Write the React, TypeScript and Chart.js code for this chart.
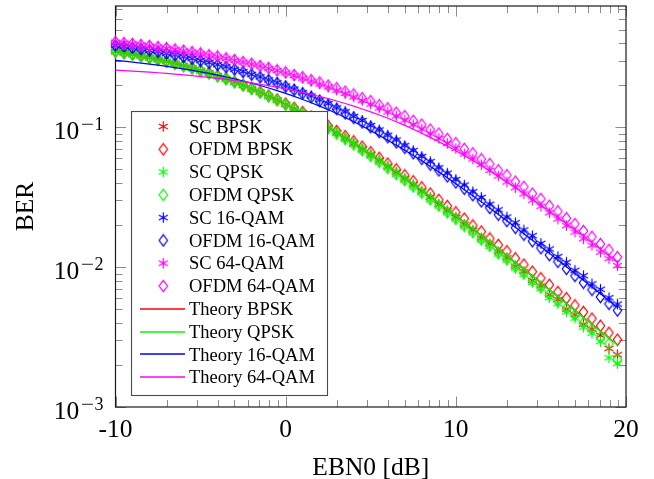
import React, { useEffect, useRef } from "react";
import { Chart, registerables } from "chart.js";

Chart.register(...registerables);

// ---------- data ----------
const ebn0 = [
  -10, -9.5, -9, -8.5, -8, -7.5, -7, -6.5, -6, -5.5, -5, -4.5, -4, -3.5, -3, -2.5, -2, -1.5, -1, -0.5,
  0, 0.5, 1, 1.5, 2, 2.5, 3, 3.5, 4, 4.5, 5, 5.5, 6, 6.5, 7, 7.5, 8, 8.5, 9, 9.5,
  10, 10.5, 11, 11.5, 12, 12.5, 13, 13.5, 14, 14.5, 15, 15.5, 16, 16.5, 17, 17.5, 18, 18.5, 19, 19.5,
];

const scBpsk = [
  0.3489, 0.3415, 0.3325, 0.3244, 0.3148, 0.306, 0.2957, 0.2865, 0.2756, 0.2658, 0.2545, 0.2444, 0.2328, 0.2225, 0.2107, 0.2003, 0.1886, 0.1784, 0.1669, 0.1571,
  0.1461, 0.1358, 0.1264, 0.1168, 0.1081, 0.0994, 0.0915, 0.0838, 0.0768, 0.0699, 0.0637, 0.058, 0.0525, 0.0476, 0.0429, 0.0389, 0.0349, 0.0315, 0.0281, 0.0253,
  0.02269, 0.02016, 0.01838, 0.01614, 0.01461, 0.01288, 0.01166, 0.01016, 0.009278, 0.008036, 0.007337, 0.006348, 0.005856, 0.00501, 0.004571, 0.003904, 0.003603, 0.00325, 0.002619, 0.002365,
];
const ofdmBpsk = [
  0.3497, 0.3416, 0.3335, 0.3246, 0.3157, 0.3062, 0.2967, 0.2868, 0.2767, 0.2662, 0.2557, 0.245, 0.2342, 0.2232, 0.2122, 0.2012, 0.1902, 0.1794, 0.1687, 0.1582,
  0.1479, 0.138, 0.1286, 0.1194, 0.1107, 0.1022, 0.09421, 0.08658, 0.07945, 0.07268, 0.06643, 0.06054, 0.05512, 0.05005, 0.04543, 0.04114, 0.03723, 0.03362, 0.03036, 0.02737,
  0.02467, 0.02225, 0.01988, 0.01799, 0.01604, 0.01443, 0.01299, 0.01157, 0.01044, 0.009289, 0.008341, 0.007487, 0.006657, 0.006, 0.005333, 0.004782, 0.004288, 0.00381, 0.003399, 0.003032,
];
const scQpsk = [
  0.348, 0.3402, 0.3318, 0.3232, 0.314, 0.305, 0.295, 0.2853, 0.2751, 0.2646, 0.2541, 0.2432, 0.2324, 0.2213, 0.2103, 0.1992, 0.1882, 0.1773, 0.1665, 0.156,
  0.1457, 0.135, 0.1257, 0.1156, 0.1072, 0.098, 0.09044, 0.08219, 0.07544, 0.06832, 0.06238, 0.05634, 0.0513, 0.04611, 0.04182, 0.03752, 0.03397, 0.03036, 0.0274, 0.02447,
  0.02211, 0.01964, 0.01772, 0.01563, 0.01408, 0.01241, 0.01123, 0.009837, 0.008843, 0.007777, 0.007028, 0.006072, 0.005486, 0.004789, 0.004325, 0.003729, 0.003368, 0.002936, 0.00225, 0.00205,
];
const ofdmQpsk = [
  0.3486, 0.3408, 0.3322, 0.3236, 0.3146, 0.3053, 0.2956, 0.2858, 0.2755, 0.2651, 0.2545, 0.2437, 0.2328, 0.2218, 0.2107, 0.1997, 0.1886, 0.1778, 0.167, 0.1565,
  0.1457, 0.1354, 0.1254, 0.1162, 0.1071, 0.0985, 0.09035, 0.08261, 0.0756, 0.06881, 0.06258, 0.0568, 0.05141, 0.04659, 0.04204, 0.03791, 0.03415, 0.03068, 0.02763, 0.02478,
  0.02222, 0.01985, 0.01787, 0.01589, 0.01431, 0.01268, 0.01142, 0.01011, 0.009085, 0.008036, 0.007221, 0.006383, 0.005733, 0.005065, 0.004546, 0.003992, 0.003603, 0.003146, 0.002837, 0.00218,
];
const sc16 = [
  0.386, 0.3797, 0.3712, 0.3645, 0.3552, 0.3478, 0.3382, 0.3301, 0.3199, 0.3113, 0.3007, 0.2917, 0.2808, 0.2714, 0.2603, 0.2507, 0.2394, 0.2297, 0.2184, 0.2087,
  0.1975, 0.188, 0.177, 0.1677, 0.157, 0.1481, 0.1379, 0.1294, 0.1198, 0.112, 0.1031, 0.09585, 0.08785, 0.0813, 0.0741, 0.0683, 0.06195, 0.0569, 0.0514, 0.04705,
  0.04235, 0.0387, 0.03465, 0.0316, 0.0282, 0.0257, 0.02285, 0.0208, 0.01845, 0.0168, 0.0148, 0.0135, 0.0119, 0.01085, 0.0095, 0.0087, 0.0076, 0.00695, 0.00605, 0.00545,
];
const ofdm16 = [
  0.3845, 0.3774, 0.3699, 0.3622, 0.354, 0.3457, 0.337, 0.3281, 0.3188, 0.3093, 0.2997, 0.2898, 0.2798, 0.2696, 0.2594, 0.249, 0.2386, 0.2282, 0.2177, 0.2073,
  0.1959, 0.1853, 0.1749, 0.1646, 0.1546, 0.1447, 0.1353, 0.126, 0.1171, 0.1086, 0.1003, 0.09253, 0.08512, 0.07812, 0.07153, 0.06536, 0.05959, 0.05422, 0.04925, 0.04464,
  0.0404, 0.0364, 0.03274, 0.02957, 0.02652, 0.02376, 0.02139, 0.01913, 0.01708, 0.01534, 0.01368, 0.0122, 0.01093, 0.00973, 0.00866, 0.00774, 0.00689, 0.00612, 0.00547, 0.0049,
];
const sc64 = [
  0.4062, 0.4016, 0.3944, 0.3892, 0.3815, 0.3758, 0.3676, 0.3612, 0.3524, 0.3455, 0.3362, 0.3288, 0.3192, 0.3112, 0.3015, 0.2931, 0.2831, 0.2742, 0.2642, 0.255,
  0.2454, 0.2351, 0.2248, 0.2145, 0.2043, 0.1945, 0.1844, 0.1748, 0.1651, 0.1557, 0.1467, 0.1376, 0.129, 0.1206, 0.1126, 0.1047, 0.09722, 0.09011, 0.08328, 0.0768,
  0.07056, 0.06462, 0.05936, 0.05411, 0.04921, 0.04492, 0.04071, 0.03702, 0.03342, 0.03012, 0.02726, 0.0245, 0.02212, 0.01982, 0.01785, 0.01597, 0.01435, 0.01282, 0.01151, 0.01026,
];
const ofdm64 = [
  0.4075, 0.4008, 0.3958, 0.3884, 0.3829, 0.375, 0.369, 0.3606, 0.3541, 0.345, 0.3381, 0.3286, 0.3213, 0.3112, 0.3036, 0.2933, 0.2853, 0.2749, 0.2666, 0.256,
  0.2476, 0.2369, 0.2285, 0.2178, 0.2094, 0.1989, 0.1906, 0.1802, 0.1721, 0.1619, 0.1541, 0.1442, 0.1367, 0.1273, 0.1203, 0.1113, 0.1047, 0.0964, 0.0903, 0.0827,
  0.0771, 0.0702, 0.0652, 0.0591, 0.0547, 0.0493, 0.0455, 0.0409, 0.0376, 0.0336, 0.0308, 0.0275, 0.0251, 0.0224, 0.0204, 0.01815, 0.0165, 0.01465, 0.0133, 0.0118,
];
const theoryBpsk = [
  0.3492, 0.3412, 0.3328, 0.3241, 0.3151, 0.3057, 0.2961, 0.2862, 0.276, 0.2655, 0.2549, 0.2441, 0.2332, 0.2222, 0.2111, 0.2, 0.189, 0.1781, 0.1673, 0.1568,
  0.1464, 0.1364, 0.1267, 0.1174, 0.1085, 0.1, 0.09191, 0.0843, 0.07714, 0.07043, 0.06418, 0.05838, 0.053, 0.04803, 0.04347, 0.03929, 0.03546, 0.03196, 0.02878, 0.02589,
  0.02327, 0.02089, 0.01875, 0.01681, 0.01506, 0.01349, 0.01208, 0.01081, 0.009665, 0.008641, 0.007723, 0.0069, 0.006164, 0.005505, 0.004915, 0.004387, 0.003916, 0.003495, 0.003118, 0.002782,
];
const theoryQpsk = [
  0.3492, 0.3412, 0.3328, 0.3241, 0.3151, 0.3057, 0.2961, 0.2862, 0.276, 0.2655, 0.2549, 0.2441, 0.2332, 0.2222, 0.2111, 0.2, 0.189, 0.1781, 0.1673, 0.1568,
  0.1464, 0.1364, 0.1267, 0.1174, 0.1085, 0.1, 0.09191, 0.0843, 0.07714, 0.07043, 0.06418, 0.05838, 0.053, 0.04803, 0.04347, 0.03929, 0.03546, 0.03196, 0.02878, 0.02589,
  0.02327, 0.02089, 0.01875, 0.01681, 0.01506, 0.01349, 0.01208, 0.01081, 0.009665, 0.008641, 0.007723, 0.0069, 0.006164, 0.005505, 0.004915, 0.004387, 0.003916, 0.003495, 0.003118, 0.002782,
];
const theory16 = [
  0.3016, 0.2975, 0.2931, 0.2885, 0.2836, 0.2786, 0.2733, 0.2677, 0.2619, 0.2559, 0.2496, 0.2431, 0.2363, 0.2293, 0.2221, 0.2146, 0.207, 0.1992, 0.1912, 0.1831,
  0.1749, 0.1666, 0.1583, 0.15, 0.1418, 0.1336, 0.1255, 0.1176, 0.1098, 0.1023, 0.0946, 0.0876, 0.081, 0.0746, 0.0686, 0.0629, 0.0576, 0.0526, 0.0479, 0.04356,
  0.03955, 0.03585, 0.03245, 0.02932, 0.02646, 0.02385, 0.02148, 0.01932, 0.01736, 0.01559, 0.01399, 0.01255, 0.01124, 0.01007, 0.00901, 0.00806, 0.00721, 0.00645, 0.00576, 0.00515,
];
const theory64 = [
  0.2571, 0.255, 0.2529, 0.2506, 0.2483, 0.2458, 0.2431, 0.2403, 0.2374, 0.2343, 0.231, 0.2276, 0.224, 0.2202, 0.2163, 0.2121, 0.2078, 0.2033, 0.1986, 0.1936,
  0.1885, 0.1833, 0.1778, 0.1721, 0.1663, 0.1604, 0.1543, 0.1481, 0.1418, 0.1354, 0.129, 0.1225, 0.1161, 0.1096, 0.1033, 0.097, 0.09085, 0.08485, 0.07902, 0.0734,
  0.06798, 0.0628, 0.05786, 0.05318, 0.04876, 0.04461, 0.04073, 0.03711, 0.03375, 0.03063, 0.02776, 0.02512, 0.0227, 0.02048, 0.01846, 0.01662, 0.01495, 0.01344, 0.01207, 0.01083,
];

const xTickLabels = [-10, 0, 10, 20];
const yTickExponents = [-3, -2, -1];

const RED = "#ff0000";
const GREEN = "#00ff00";
const BLUE = "#0000ff";
const MAGENTA = "#ff00ff";

const FONT_FAMILY = '"Liberation Serif", "Times New Roman", "DejaVu Serif", serif';

// ---------- marker images ----------
function makeStar(color: string) {
  const c = document.createElement("canvas");
  c.width = 13;
  c.height = 13;
  const g = c.getContext("2d")!;
  g.strokeStyle = color;
  g.lineWidth = 1.2;
  const cx = 6.5, cy = 6.5, r = 5.2;
  g.beginPath();
  for (const a of [90, 30, 150]) {
    const t = (a * Math.PI) / 180;
    g.moveTo(cx + r * Math.cos(t), cy - r * Math.sin(t));
    g.lineTo(cx - r * Math.cos(t), cy + r * Math.sin(t));
  }
  g.stroke();
  return c;
}

function makeDiamond(color: string) {
  const c = document.createElement("canvas");
  c.width = 11;
  c.height = 14;
  const g = c.getContext("2d")!;
  g.strokeStyle = color;
  g.lineWidth = 1.2;
  const cx = 5.5, cy = 7, hw = 4.2, hh = 5.7;
  g.beginPath();
  g.moveTo(cx, cy - hh);
  g.lineTo(cx + hw, cy);
  g.lineTo(cx, cy + hh);
  g.lineTo(cx - hw, cy);
  g.closePath();
  g.stroke();
  return c;
}

// ---------- frame / labels / legend plugin ----------
const framePlugin = {
  id: "pgfFrame",
  beforeDatasetsDraw(chart: any) {
    const ctx = chart.ctx;
    const { left, right, top, bottom } = chart.chartArea;
    const xs = chart.scales.x;
    const ys = chart.scales.y;
    ctx.save();
    ctx.strokeStyle = "#8c8c8c";
    ctx.lineWidth = 1;
    const minorLen = 7;
    const majorLen = 10.5;
    for (const v of xTickLabels) {
      const px = Math.round(xs.getPixelForValue(v)) + 0.5;
      ctx.beginPath();
      ctx.moveTo(px, bottom);
      ctx.lineTo(px, bottom - majorLen);
      ctx.moveTo(px, top);
      ctx.lineTo(px, top + majorLen);
      ctx.stroke();
    }
    for (let a = -10; a < 20; a += 10) {
      for (let k = 2; k <= 9; k++) {
        const v = a + 10 * Math.log10(k);
        const px = Math.round(xs.getPixelForValue(v)) + 0.5;
        ctx.beginPath();
        ctx.moveTo(px, bottom);
        ctx.lineTo(px, bottom - minorLen);
        ctx.moveTo(px, top);
        ctx.lineTo(px, top + minorLen);
        ctx.stroke();
      }
    }
    for (const e of yTickExponents) {
      const py = Math.round(ys.getPixelForValue(Math.pow(10, e))) + 0.5;
      ctx.beginPath();
      ctx.moveTo(left, py);
      ctx.lineTo(left + majorLen, py);
      ctx.moveTo(right, py);
      ctx.lineTo(right - majorLen, py);
      ctx.stroke();
    }
    for (let e = -3; e <= -1; e++) {
      for (let k = 2; k <= 9; k++) {
        const v = k * Math.pow(10, e);
        if (v > ys.max) continue;
        const py = Math.round(ys.getPixelForValue(v)) + 0.5;
        ctx.beginPath();
        ctx.moveTo(left, py);
        ctx.lineTo(left + minorLen, py);
        ctx.moveTo(right, py);
        ctx.lineTo(right - minorLen, py);
        ctx.stroke();
      }
    }
    ctx.strokeStyle = "#1a1a1a";
    ctx.lineWidth = 1.2;
    ctx.strokeRect(left, top, right - left, bottom - top);
    ctx.restore();
  },
  afterDraw(chart: any) {
    const ctx = chart.ctx;
    const { left, right, top, bottom } = chart.chartArea;
    const xs = chart.scales.x;
    const ys = chart.scales.y;
    ctx.save();
    ctx.fillStyle = "#000";
    ctx.font = `25.5px ${FONT_FAMILY}`;
    ctx.textAlign = "center";
    ctx.textBaseline = "alphabetic";
    for (const v of xTickLabels) {
      const px = xs.getPixelForValue(v);
      ctx.fillText(v < 0 ? "-" + Math.abs(v) : String(v), px, 437);
    }
    for (const e of yTickExponents) {
      const py = ys.getPixelForValue(Math.pow(10, e));
      const R = 103.5;
      ctx.textAlign = "right";
      ctx.font = `18px ${FONT_FAMILY}`;
      const digit = String(Math.abs(e));
      ctx.fillText(digit, R, py + 2.5);
      const dw = ctx.measureText(digit).width;
      ctx.save();
      ctx.translate(R - dw - 0.5, py + 2.5);
      ctx.scale(1.3, 1);
      ctx.fillText("\u2212", 0, 0);
      const mw = ctx.measureText("\u2212").width * 1.3;
      ctx.restore();
      ctx.font = `25.5px ${FONT_FAMILY}`;
      ctx.fillText("10", R - dw - 0.5 - mw - 1.5, py + 11.5);
    }
    ctx.font = `25.5px ${FONT_FAMILY}`;
    ctx.textAlign = "center";
    ctx.fillText("EBN0 [dB]", (left + right) / 2, 475);
    ctx.save();
    ctx.translate(33.3, (top + bottom) / 2);
    ctx.rotate(-Math.PI / 2);
    ctx.fillText("BER", 0, 0);
    ctx.restore();

    // legend
    const bx = 131.5, by = 111.5, bw = 196, bh = 284;
    ctx.fillStyle = "#ffffff";
    ctx.fillRect(bx, by, bw, bh);
    ctx.strokeStyle = "#4a4a4a";
    ctx.lineWidth = 1.1;
    ctx.strokeRect(bx, by, bw, bh);
    ctx.font = `18.5px ${FONT_FAMILY}`;
    ctx.textAlign = "left";
    ctx.textBaseline = "alphabetic";
    chart.data.datasets.forEach((ds: any, i: number) => {
      const base = 132.7 + i * 22.78;
      const cy = base - 6.2;
      if (ds.showLine === false) {
        const img = ds.pointStyle as HTMLCanvasElement;
        ctx.drawImage(img, 163.3 - img.width / 2, cy - img.height / 2);
      } else {
        const ly = Math.round(cy);
        ctx.strokeStyle = ds.borderColor;
        ctx.lineWidth = 1.6;
        ctx.beginPath();
        ctx.moveTo(140, ly);
        ctx.lineTo(185, ly);
        ctx.stroke();
      }
      ctx.fillStyle = "#000";
      ctx.fillText(ds.label, 189, base);
    });
    ctx.restore();
  },
};

export default function App() {
  const ref = useRef<HTMLCanvasElement | null>(null);

  useEffect(() => {
    const canvas = ref.current;
    if (!canvas) return;

    const toPts = (arr: number[]) => ebn0.map((x, i) => ({ x, y: arr[i] }));
    const markerSeries: [string, number[], string, "star" | "diamond"][] = [
      ["SC BPSK", scBpsk, RED, "star"],
      ["OFDM BPSK", ofdmBpsk, RED, "diamond"],
      ["SC QPSK", scQpsk, GREEN, "star"],
      ["OFDM QPSK", ofdmQpsk, GREEN, "diamond"],
      ["SC 16-QAM", sc16, BLUE, "star"],
      ["OFDM 16-QAM", ofdm16, BLUE, "diamond"],
      ["SC 64-QAM", sc64, MAGENTA, "star"],
      ["OFDM 64-QAM", ofdm64, MAGENTA, "diamond"],
    ];
    const lineSeries: [string, number[], string][] = [
      ["Theory BPSK", theoryBpsk, RED],
      ["Theory QPSK", theoryQpsk, GREEN],
      ["Theory 16-QAM", theory16, BLUE],
      ["Theory 64-QAM", theory64, MAGENTA],
    ];

    const datasets: any[] = [];
    markerSeries.forEach(([label, arr, color, kind]) => {
      datasets.push({
        label,
        data: toPts(arr),
        showLine: false,
        pointStyle: kind === "star" ? makeStar(color) : makeDiamond(color),
        pointRadius: 5,
        borderColor: color,
        backgroundColor: color,
        clip: false,
      });
    });
    lineSeries.forEach(([label, arr, color]) => {
      datasets.push({
        label,
        data: toPts(arr),
        showLine: true,
        borderColor: color,
        backgroundColor: color,
        borderWidth: 1.2,
        pointRadius: 0,
        tension: 0,
        fill: false,
      });
    });
    datasets.forEach((d, i) => (d.order = -i));

    const chart = new Chart(canvas, {
      type: "line",
      data: { datasets },
      options: {
        responsive: false,
        animation: false,
        events: [],
        layout: { padding: { left: 115.5, right: 28, top: 5.5, bottom: 72 } },
        scales: {
          x: { type: "linear", min: -10, max: 20, display: false },
          y: { type: "logarithmic", min: 0.001, max: 0.738, display: false },
        },
        plugins: {
          legend: { display: false },
          tooltip: { enabled: false },
        },
      },
      plugins: [framePlugin],
    } as any);

    return () => chart.destroy();
  }, []);

  return (
    <div style={{ position: "fixed", left: 0, top: 0, width: 654, height: 479, background: "#fff" }}>
      <canvas ref={ref} width={654} height={479} style={{ display: "block" }} />
    </div>
  );
}
